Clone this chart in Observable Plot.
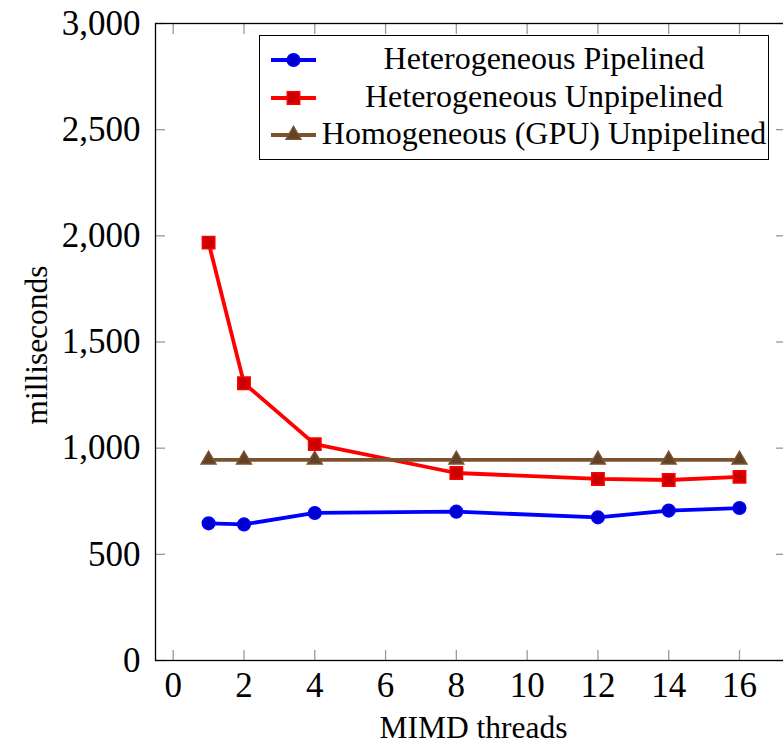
<!DOCTYPE html>
<html><head><meta charset="utf-8">
<script src="https://cdn.jsdelivr.net/npm/d3@7"></script>
<script src="https://cdn.jsdelivr.net/npm/@observablehq/plot@0.6"></script>
<style>
html,body{margin:0;padding:0;background:#fff;}
#wrap{position:relative;width:783px;height:747px;overflow:hidden;background:#fff;}
#wrap svg.plot{max-width:none !important;}
#legend{position:absolute;left:259px;top:35px;width:510px;height:125px;border:1.3px solid #000;background:#fff;box-sizing:border-box;font-family:"Liberation Serif",serif;font-size:32px;color:#000;}
.row{position:absolute;left:0;width:100%;height:36px;}
.row svg{position:absolute;left:9px;top:0;}
.row .lbl{position:absolute;left:60px;width:448px;text-align:center;top:-2px;line-height:36px;white-space:nowrap;}
</style></head><body><div id="wrap"></div>
<script>
// ---- data ----
const threads = [1, 2, 4, 8, 12, 14, 16];
const pipelined = [646, 641, 695, 701, 674, 706, 718];
const unpipelined = [1968, 1306, 1019, 883, 855, 850, 865];
const gpuUnpipelined = [945, 945, 945, 945, 945, 945, 945];
const seriesNames = ["Heterogeneous Pipelined", "Heterogeneous Unpipelined", "Homogeneous (GPU) Unpipelined"];
const xTicks = [0, 2, 4, 6, 8, 10, 12, 14, 16];
const yTicks = [0, 500, 1000, 1500, 2000, 2500, 3000];
const xLabel = "MIMD threads";
const yLabel = "milliseconds";

// ---- styles ----
const styles = [
  {stroke: "#0000ff", fill: "#0000cc", symbol: "circle", r: 6.3},
  {stroke: "#ff0000", fill: "#cc0000", symbol: "square", r: 7},
  {stroke: "#7a5230", fill: "#624226", symbol: "triangle", r: 5.5}
];
const seriesValues = [pipelined, unpipelined, gpuUnpipelined];
const tables = seriesValues.map(vals => threads.map((t, i) => ({x: t, y: vals[i]})));

const marks = [];
tables.forEach((data, k) => {
  const s = styles[k];
  marks.push(Plot.line(data, {x: "x", y: "y", stroke: s.stroke, strokeWidth: 3.8, strokeLinejoin: "round"}));
  marks.push(Plot.dot(data, {x: "x", y: "y", symbol: s.symbol, r: s.r, fill: s.fill, stroke: s.stroke, strokeWidth: 1.5}));
});

const chart = Plot.plot({
  width: 790,
  height: 747,
  marginLeft: 155,
  marginRight: 5,
  marginTop: 23,
  marginBottom: 87,
  style: {fontFamily: "Liberation Serif, serif", background: "white", color: "black", maxWidth: "none"},
  x: {domain: [-0.5, 17.3]},
  y: {domain: [0, 3000]},
  marks: [
    // inward gray tick marks on all four sides
    Plot.axisX({ticks: xTicks, anchor: "bottom", tickSize: -10, tickFormat: () => "", stroke: "#9a9a9a", strokeWidth: 1.3, label: null}),
    Plot.axisX({ticks: xTicks, anchor: "top", tickSize: -10, tickFormat: () => "", stroke: "#9a9a9a", strokeWidth: 1.3, label: null}),
    Plot.axisY({ticks: yTicks, anchor: "left", tickSize: -10, tickFormat: () => "", stroke: "#9a9a9a", strokeWidth: 1.3, label: null}),
    Plot.axisY({ticks: yTicks, anchor: "right", tickSize: -10, tickFormat: () => "", stroke: "#9a9a9a", strokeWidth: 1.3, label: null}),
    // tick labels
    Plot.axisX({ticks: xTicks, anchor: "bottom", tickSize: 0, tickPadding: 12, fontSize: 35, tickFormat: d => String(d), label: null}),
    Plot.axisY({ticks: yTicks, anchor: "left", tickSize: 0, tickPadding: 15, fontSize: 35, tickFormat: d3.format(","), label: null}),
    ...marks,
    Plot.frame({stroke: "#000", strokeWidth: 1.3}),
    Plot.text([xLabel], {frameAnchor: "bottom", dx: 3, dy: 67, fontSize: 31.5, lineAnchor: "middle", textAnchor: "middle"}),
    Plot.text([yLabel], {frameAnchor: "left", dx: -119, dy: 3, rotate: -90, fontSize: 31.5, lineAnchor: "middle", textAnchor: "middle"})
  ]
});
chart.style.maxWidth = "none";

const wrap = document.getElementById("wrap");
wrap.appendChild(chart);

// ---- legend ----
const legend = document.createElement("div");
legend.id = "legend";
const rowTops = [6, 44, 81];
const symbolMap = {circle: d3.symbolCircle, square: d3.symbolSquare, triangle: d3.symbolTriangle};
seriesNames.forEach((name, k) => {
  const s = styles[k];
  const row = document.createElement("div");
  row.className = "row";
  row.style.top = rowTops[k] + "px";
  const path = d3.symbol(symbolMap[s.symbol], Math.PI * s.r * s.r)();
  row.innerHTML = `<svg width="50" height="36" viewBox="0 0 50 36">
    <line x1="2" y1="18" x2="47" y2="18" stroke="${s.stroke}" stroke-width="3.8"/>
    <path d="${path}" transform="translate(24.5,18)" fill="${s.fill}" stroke="${s.stroke}" stroke-width="1.5"/>
  </svg><div class="lbl">${name}</div>`;
  legend.appendChild(row);
});
wrap.appendChild(legend);
</script>
</body></html>
